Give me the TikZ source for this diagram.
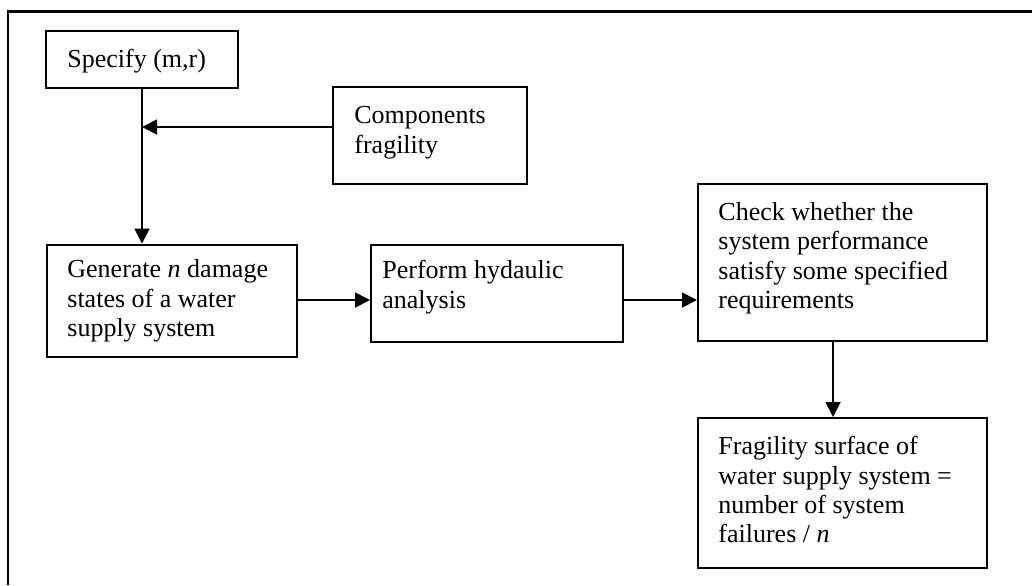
\documentclass[tikz,border=0pt]{standalone}
\usepackage{fontspec}
\setmainfont{Liberation Serif}
\usetikzlibrary{arrows.meta}
\begin{document}
\begin{tikzpicture}[x=0.5pt,y=-0.5pt,
  box/.style={draw, line width=1pt, rectangle, inner sep=0pt},
  txt/.style={inner sep=0pt, align=left, anchor=north west,
    font=\fontsize{13}{14.7}\selectfont},
  conn/.style={line width=0.9pt, -{Triangle[length=7.5pt,width=7.5pt]}},
  frame/.style={line width=1.2pt}]
\useasboundingbox (0,0) rectangle (1032,585);
\draw[frame] (8,585) -- (8,11.5) -- (1032,11.5);

\node[box, minimum width=96pt, minimum height=28.5pt] (spec) at (142,59.5) {};
\node[box, minimum width=97pt, minimum height=48.5pt] (comp) at (430,135.5) {};
\node[box, minimum width=125pt, minimum height=56pt] (gen) at (172,300.5) {};
\node[box, minimum width=126pt, minimum height=48.5pt] (perf) at (497,293.5) {};
\node[box, minimum width=144.5pt, minimum height=78.5pt] (chk) at (842.5,262.5) {};
\node[box, minimum width=144.5pt, minimum height=75pt] (frag) at (842.5,493) {};

\node[txt] (spec-t) at ([xshift=11pt,yshift=-9.5pt]spec.north west) {Specify (m,r)};
\node[txt] (comp-t) at ([xshift=11pt,yshift=-10pt]comp.north west) {Components\\fragility};
\node[txt] (gen-t) at ([xshift=10.5pt,yshift=-8pt]gen.north west) {Generate \textit{n} damage\\states of a water\\supply system};
\node[txt] (perf-t) at ([xshift=6pt,yshift=-8pt]perf.north west) {Perform hydaulic\\analysis};
\node[txt] (chk-t) at ([xshift=10.5pt,yshift=-9.5pt]chk.north west) {Check whether the\\system performance\\satisfy some specified\\requirements};
\node[txt] (frag-t) at ([xshift=10.5pt,yshift=-9.5pt]frag.north west) {Fragility surface of\\water supply system =\\number of system\\failures / \textit{n}};

\coordinate (cy) at (0,127);
\coordinate (ay) at (0,300);
\coordinate (cx) at (833,0);
\coordinate (join) at (spec.south |- cy);

\draw[line width=0.9pt] (spec.south) -- (join);
\draw[conn] (join) -- (spec.south |- gen.north);
\draw[conn] (comp.west |- cy) -- (join);
\draw[conn] (gen.east |- ay) -- (perf.west |- ay);
\draw[conn] (perf.east |- ay) -- (chk.west |- ay);
\draw[conn] (chk.south -| cx) -- (frag.north -| cx);
\end{tikzpicture}
\end{document}
